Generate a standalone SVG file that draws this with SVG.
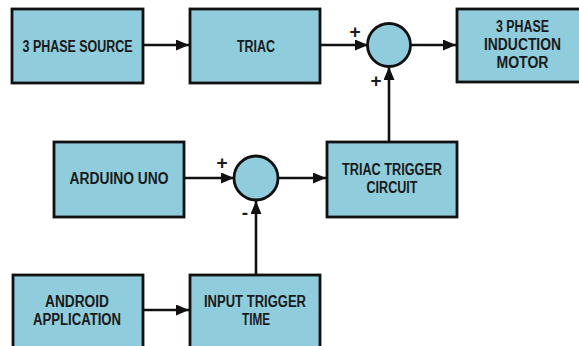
<svg xmlns="http://www.w3.org/2000/svg" width="579" height="346" viewBox="0 0 579 346">
<defs>
<style>
.box{fill:#8FCDDC;stroke:#111;stroke-width:2.8}
.sum{fill:#8FCDDC;stroke:#111;stroke-width:2.8}
.lbl{font-family:"Liberation Sans","DejaVu Sans",sans-serif;font-weight:bold;font-size:16px;fill:#1a1a1a;text-anchor:middle}
.sign{font-family:"Liberation Sans","DejaVu Sans",sans-serif;font-weight:bold;font-size:19px;fill:#1a1a1a;text-anchor:middle}
.wire{fill:none;stroke:#111;stroke-width:2.6}
</style>
<marker id="ah" viewBox="0 0 13 11" refX="13" refY="5.5" markerWidth="13" markerHeight="11" markerUnits="userSpaceOnUse" orient="auto">
<path d="M0,0 L13,5.5 L0,11 Z" fill="#111"/>
</marker>
</defs>
<rect width="579" height="346" fill="#fff"/>
<g id="connectors">
<line class="wire" x1="143" y1="45" x2="189" y2="45" marker-end="url(#ah)"/>
<line class="wire" x1="320" y1="45" x2="368" y2="45" marker-end="url(#ah)"/>
<line class="wire" x1="411" y1="45" x2="456" y2="45" marker-end="url(#ah)"/>
<line class="wire" x1="389" y1="142" x2="389" y2="67" marker-end="url(#ah)"/>
<line class="wire" x1="184" y1="178" x2="234" y2="178" marker-end="url(#ah)"/>
<line class="wire" x1="278" y1="178" x2="326" y2="178" marker-end="url(#ah)"/>
<line class="wire" x1="256" y1="275" x2="256" y2="201" marker-end="url(#ah)"/>
<line class="wire" x1="143" y1="310" x2="189" y2="310" marker-end="url(#ah)"/>
</g>
<g id="source">
<rect class="box" x="12" y="9" width="131" height="74"/>
<text class="lbl" x="77.5" y="51.5" textLength="110" lengthAdjust="spacingAndGlyphs">3 PHASE SOURCE</text>
</g>
<g id="triac">
<rect class="box" x="190" y="9" width="130" height="74"/>
<text class="lbl" x="256" y="51.5" textLength="38" lengthAdjust="spacingAndGlyphs">TRIAC</text>
</g>
<g id="sum1">
<circle class="sum" cx="389" cy="45" r="21.5"/>
<text class="sign" x="355" y="38">+</text>
<text class="sign" x="376" y="87">+</text>
</g>
<g id="motor">
<rect class="box" x="457" y="9" width="132" height="73"/>
<text class="lbl" x="522.5" y="32" textLength="53" lengthAdjust="spacingAndGlyphs">3 PHASE</text>
<text class="lbl" x="522.5" y="50" textLength="77" lengthAdjust="spacingAndGlyphs">INDUCTION</text>
<text class="lbl" x="522.5" y="68" textLength="52" lengthAdjust="spacingAndGlyphs">MOTOR</text>
</g>
<g id="arduino">
<rect class="box" x="54" y="142" width="130" height="75"/>
<text class="lbl" x="119" y="183.5" textLength="99" lengthAdjust="spacingAndGlyphs">ARDUINO UNO</text>
</g>
<g id="sum2">
<circle class="sum" cx="256" cy="178" r="22"/>
<text class="sign" x="222" y="169">+</text>
<text class="sign" x="245" y="219">-</text>
</g>
<g id="trigger">
<rect class="box" x="327" y="142" width="130" height="75"/>
<text class="lbl" x="392" y="175" textLength="100" lengthAdjust="spacingAndGlyphs">TRIAC TRIGGER</text>
<text class="lbl" x="392" y="193" textLength="51" lengthAdjust="spacingAndGlyphs">CIRCUIT</text>
</g>
<g id="android">
<rect class="box" x="13" y="275" width="130" height="76"/>
<text class="lbl" x="77" y="306.5" textLength="64" lengthAdjust="spacingAndGlyphs">ANDROID</text>
<text class="lbl" x="77" y="325" textLength="88" lengthAdjust="spacingAndGlyphs">APPLICATION</text>
</g>
<g id="input">
<rect class="box" x="190" y="275" width="130" height="76"/>
<text class="lbl" x="255" y="306.5" textLength="102" lengthAdjust="spacingAndGlyphs">INPUT TRIGGER</text>
<text class="lbl" x="256" y="325" textLength="28" lengthAdjust="spacingAndGlyphs">TIME</text>
</g>
</svg>
